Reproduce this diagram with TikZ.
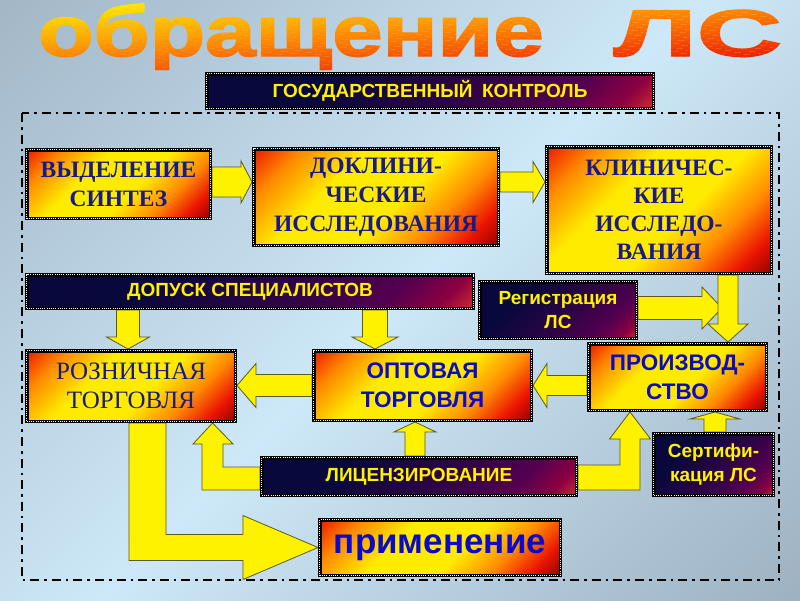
\documentclass[tikz,border=0pt]{standalone}
\usepackage{fontspec}
\setmainfont{Liberation Serif}
\newfontfamily\sansf{Liberation Sans}
\newfontfamily\titlef[BoldFeatures={FakeBold=2}]{Liberation Sans}
\usepackage{graphicx}
\usetikzlibrary{calc}
\pgfdeclarelayer{bglayer}
\pgfdeclarelayer{arrlayer}
\pgfsetlayers{bglayer,arrlayer,main}

\definecolor{hdr}{RGB}{125,0,0}
\definecolor{hred}{RGB}{235,20,0}
\definecolor{hor}{RGB}{255,140,0}
\definecolor{hyel}{RGB}{255,235,0}
\definecolor{dnavy}{RGB}{8,8,60}
\definecolor{dpurp}{RGB}{85,0,80}
\definecolor{dmar}{RGB}{140,0,65}
\definecolor{dredd}{RGB}{200,40,50}
\definecolor{dora}{RGB}{250,140,20}
\definecolor{bga}{RGB}{163,183,199}
\definecolor{bgb}{RGB}{205,232,248}
\definecolor{bgc}{RGB}{158,178,194}
\definecolor{navytxt}{RGB}{25,25,135}
\definecolor{bluetxt}{RGB}{10,10,200}
\definecolor{arrline}{RGB}{90,90,30}
\definecolor{tyel}{RGB}{255,238,0}
\definecolor{tor}{RGB}{255,135,0}
\definecolor{tred}{RGB}{238,25,0}

\pgfdeclarehorizontalshading{hotsh}{100bp}{color(0bp)=(hdr); color(9bp)=(hdr); color(14bp)=(hred); color(25bp)=(hor); color(38bp)=(hyel); color(56bp)=(hyel); color(68bp)=(hor); color(78bp)=(hred); color(87bp)=(hdr); color(100bp)=(hdr)}
\pgfdeclarehorizontalshading{darksh}{100bp}{color(0bp)=(dnavy); color(33bp)=(dnavy); color(58bp)=(dnavy!45!dpurp); color(72bp)=(dpurp); color(80bp)=(dmar); color(85bp)=(dredd); color(89bp)=(dora); color(100bp)=(dora)}
\pgfdeclarehorizontalshading{bgsh}{100bp}{color(0bp)=(bga); color(15bp)=(bga); color(50bp)=(bgb); color(85bp)=(bgc); color(100bp)=(bgc)}

\tikzset{
  boxbase/.style={rectangle, draw=black, line width=3.5pt, inner sep=0pt, align=center,
    postaction={draw=white, line width=1pt, dash pattern=on 1pt off 1.2pt}},
  sz/.style 2 args={minimum width=#1pt-3.5pt, minimum height=#2pt-3.5pt},
  hotbox/.style={boxbase, shading=hotsh, shading angle=-45, text=navytxt,
    font=\bfseries\fontsize{23.5}{29}\selectfont},
  hotsans/.style={boxbase, shading=hotsh, shading angle=-45, text=bluetxt,
    font=\sansf\bfseries\fontsize{22.5}{29}\selectfont},
  darkbox/.style={boxbase, shading=darksh, shading angle=-45, text=yellow,
    font=\sansf\bfseries\fontsize{19}{24.5}\selectfont},
  arr/.style={fill=yellow, draw=arrline, line width=0.8pt, line join=miter},
  titlest/.style={inner sep=0pt, anchor=base west, font=\titlef\bfseries\fontsize{55}{55}\selectfont},
}

% block arrow: #1 start, #2 tip, #3 shaft half width, #4 head half width, #5 head length
\newcommand\barrow[5]{%
  \coordinate (ahb) at ($(#2)!#5!(#1)$);
  \draw[arr] ($(#1)!#3!90:(#2)$) -- ($(ahb)!#3!-90:(#1)$) -- ($(ahb)!#4!-90:(#1)$) -- (#2)
     -- ($(ahb)!#4!90:(#1)$) -- ($(ahb)!#3!90:(#1)$) -- ($(#1)!#3!-90:(#2)$) -- cycle;
}

\begin{document}
\begin{tikzpicture}[x=1pt, y=-1pt]
\useasboundingbox (0,0) rectangle (800,600);

\begin{pgfonlayer}{bglayer}
  \shade[shading=bgsh, shading angle=-45] (0,0) rectangle (800,600);
  \draw[line width=2.6pt, dash pattern=on 9pt off 5pt on 2.6pt off 5pt] (22,113) rectangle (779,580);
\end{pgfonlayer}

% title with diagonal colour bands
\foreach \i in {0,...,39} {
  \pgfmathsetmacro\ta{110+\i*39}
  \pgfmathsetmacro\tb{\ta+40}
  \pgfmathsetmacro\f{\i/39*100}
  \pgfmathtruncatemacro\fa{min(100,2*\f)}
  \pgfmathtruncatemacro\fb{max(0,2*\f-100)}
  \begin{scope}
    \clip (\ta+74,-5) -- (\tb+74,-5) -- (\tb-1036,70) -- (\ta-1036,70) -- cycle;
    \node[titlest, text=tred!\fb!tor!\fa!tyel] (title\i) at (38,56)
      {\scalebox{1.65}[1.3]{обращение}\hspace{70pt}\scalebox{2.15}[1.2]{ЛС}};
  \end{scope}
}

% boxes
\node[darkbox, sz={450}{38}] (gos) at (430,91) {ГОСУДАРСТВЕННЫЙ\hspace{0.5em}КОНТРОЛЬ};
\node[hotbox, sz={187}{72}] (vyd) at (118.5,184) {ВЫДЕЛЕНИЕ\\СИНТЕЗ};
\node[hotbox, sz={248}{100}] (dokl) at (376,197) {ДОКЛИНИ-\\ЧЕСКИЕ\\ИССЛЕДОВАНИЯ};
\node[hotbox, sz={228}{130}, font=\bfseries\fontsize{23.5}{28}\selectfont] (klin) at (659,210) {КЛИНИЧЕС-\\КИЕ\\ИССЛЕДО-\\ВАНИЯ};
\node[darkbox, sz={450}{37}] (dop) at (250,291.5) {ДОПУСК СПЕЦИАЛИСТОВ};
\node[darkbox, sz={160}{60}] (reg) at (558,310) {Регистрация\\ЛС};
\node[hotsans, sz={181}{70}] (proizv) at (677.5,377) {ПРОИЗВОД-\\СТВО};
\node[hotsans, sz={221}{73}] (opt) at (422.5,385.5) {ОПТОВАЯ\\ТОРГОВЛЯ};
\node[hotbox, sz={212}{74}, font=\fontsize{25}{29}\selectfont] (rozn) at (131,386) {РОЗНИЧНАЯ\\ТОРГОВЛЯ};
\node[darkbox, sz={318}{41}] (lic) at (419,476.5) {ЛИЦЕНЗИРОВАНИЕ};
\node[darkbox, sz={123}{65}] (sert) at (713.5,464.5) {Сертифи-\\кация ЛС};
\node[hotsans, sz={244}{59}, font=\sansf\bfseries\fontsize{35}{40}\selectfont] (prim) at (440,547.5) {применение};

% arrows
\begin{pgfonlayer}{arrlayer}
  \coordinate (a1s) at ($(vyd.east)+(0,-2)$);
  \coordinate (a1e) at (dokl.west |- a1s);
  \barrow{a1s}{a1e}{15pt}{21pt}{11pt}
  \coordinate (a2s) at (dokl.east |- a1s);
  \coordinate (a2e) at (klin.west |- a1s);
  \barrow{a2s}{a2e}{10pt}{20.5pt}{12pt}
  \coordinate (a3s) at ($(reg.east)+(0,-2)$);
  \coordinate (regtip) at ($(a3s)+(84,0)$);
  \barrow{a3s}{regtip}{11.5pt}{21pt}{20pt}
  \coordinate (a4s) at ($(klin.south east)+(-45,0)$);
  \coordinate (a4e) at (a4s |- proizv.north);
  \barrow{a4s}{a4e}{10pt}{20pt}{18pt}
  \coordinate (a5s) at (proizv.west |- opt.east);
  \barrow{a5s}{opt.east}{10pt}{22pt}{14pt}
  \coordinate (a6e) at (rozn.east |- opt.west);
  \barrow{opt.west}{a6e}{11pt}{22pt}{19pt}
  \coordinate (a7s) at ($(rozn.north |- dop.south)+(-3,0)$);
  \coordinate (a7e) at (a7s |- rozn.north);
  \barrow{a7s}{a7e}{11.5pt}{21.5pt}{12pt}
  \coordinate (a8e) at ($(opt.north west)+(63,0)$);
  \coordinate (a8s) at (a8e |- dop.south);
  \barrow{a8s}{a8e}{12.5pt}{23pt}{12pt}
  \coordinate (a9s) at ($(lic.north)+(-4,0)$);
  \coordinate (a9e) at (a9s |- opt.south);
  \barrow{a9s}{a9e}{10pt}{21pt}{10pt}
  \coordinate (a12s) at ($(sert.north)+(1.5,0)$);
  \coordinate (a12e) at (a12s |- proizv.south);
  \barrow{a12s}{a12e}{11pt}{25pt}{7pt}
  % licensing -> retail (L-shape)
  \coordinate (Lx) at ($(rozn.south east)+(-24.5,0)$);
  \draw[arr] ($(lic.west)+(0,-9.5)$) -- ($(Lx |- lic.west)+(10.5,-9.5)$) -- ($(Lx)+(10.5,21)$)
    -- ($(Lx)+(20.5,21)$) -- (Lx) -- ($(Lx)+(-19.5,21)$) -- ($(Lx)+(-10.5,21)$)
    -- ($(Lx |- lic.west)+(-10.5,13.5)$) -- ($(lic.west)+(0,13.5)$) -- cycle;
  % licensing -> production (L-shape)
  \coordinate (Rx) at ($(proizv.south west)+(43,0)$);
  \draw[arr] ($(lic.east)+(0,-11.5)$) -- ($(Rx |- lic.east)+(-10,-11.5)$) -- ($(Rx)+(-10,27)$)
    -- ($(Rx)+(-20.5,27)$) -- (Rx) -- ($(Rx)+(20.5,27)$) -- ($(Rx)+(10,27)$)
    -- ($(Rx |- lic.east)+(10,13.5)$) -- ($(lic.east)+(0,13.5)$) -- cycle;
  % retail -> application (big L-shape)
  \draw[arr] ($(rozn.south)+(-2,0)$) -- ($(rozn.south)+(35,0)$) -- ($(rozn.south |- prim.west)+(35,-13)$)
    -- ($(prim.west)+(-75,-13)$) -- ($(prim.west)+(-75,-32)$) -- (prim.west)
    -- ($(prim.west)+(-75,32)$) -- ($(prim.west)+(-75,13)$) -- ($(rozn.south |- prim.west)+(-2,13)$) -- cycle;
\end{pgfonlayer}
\end{tikzpicture}
\end{document}
